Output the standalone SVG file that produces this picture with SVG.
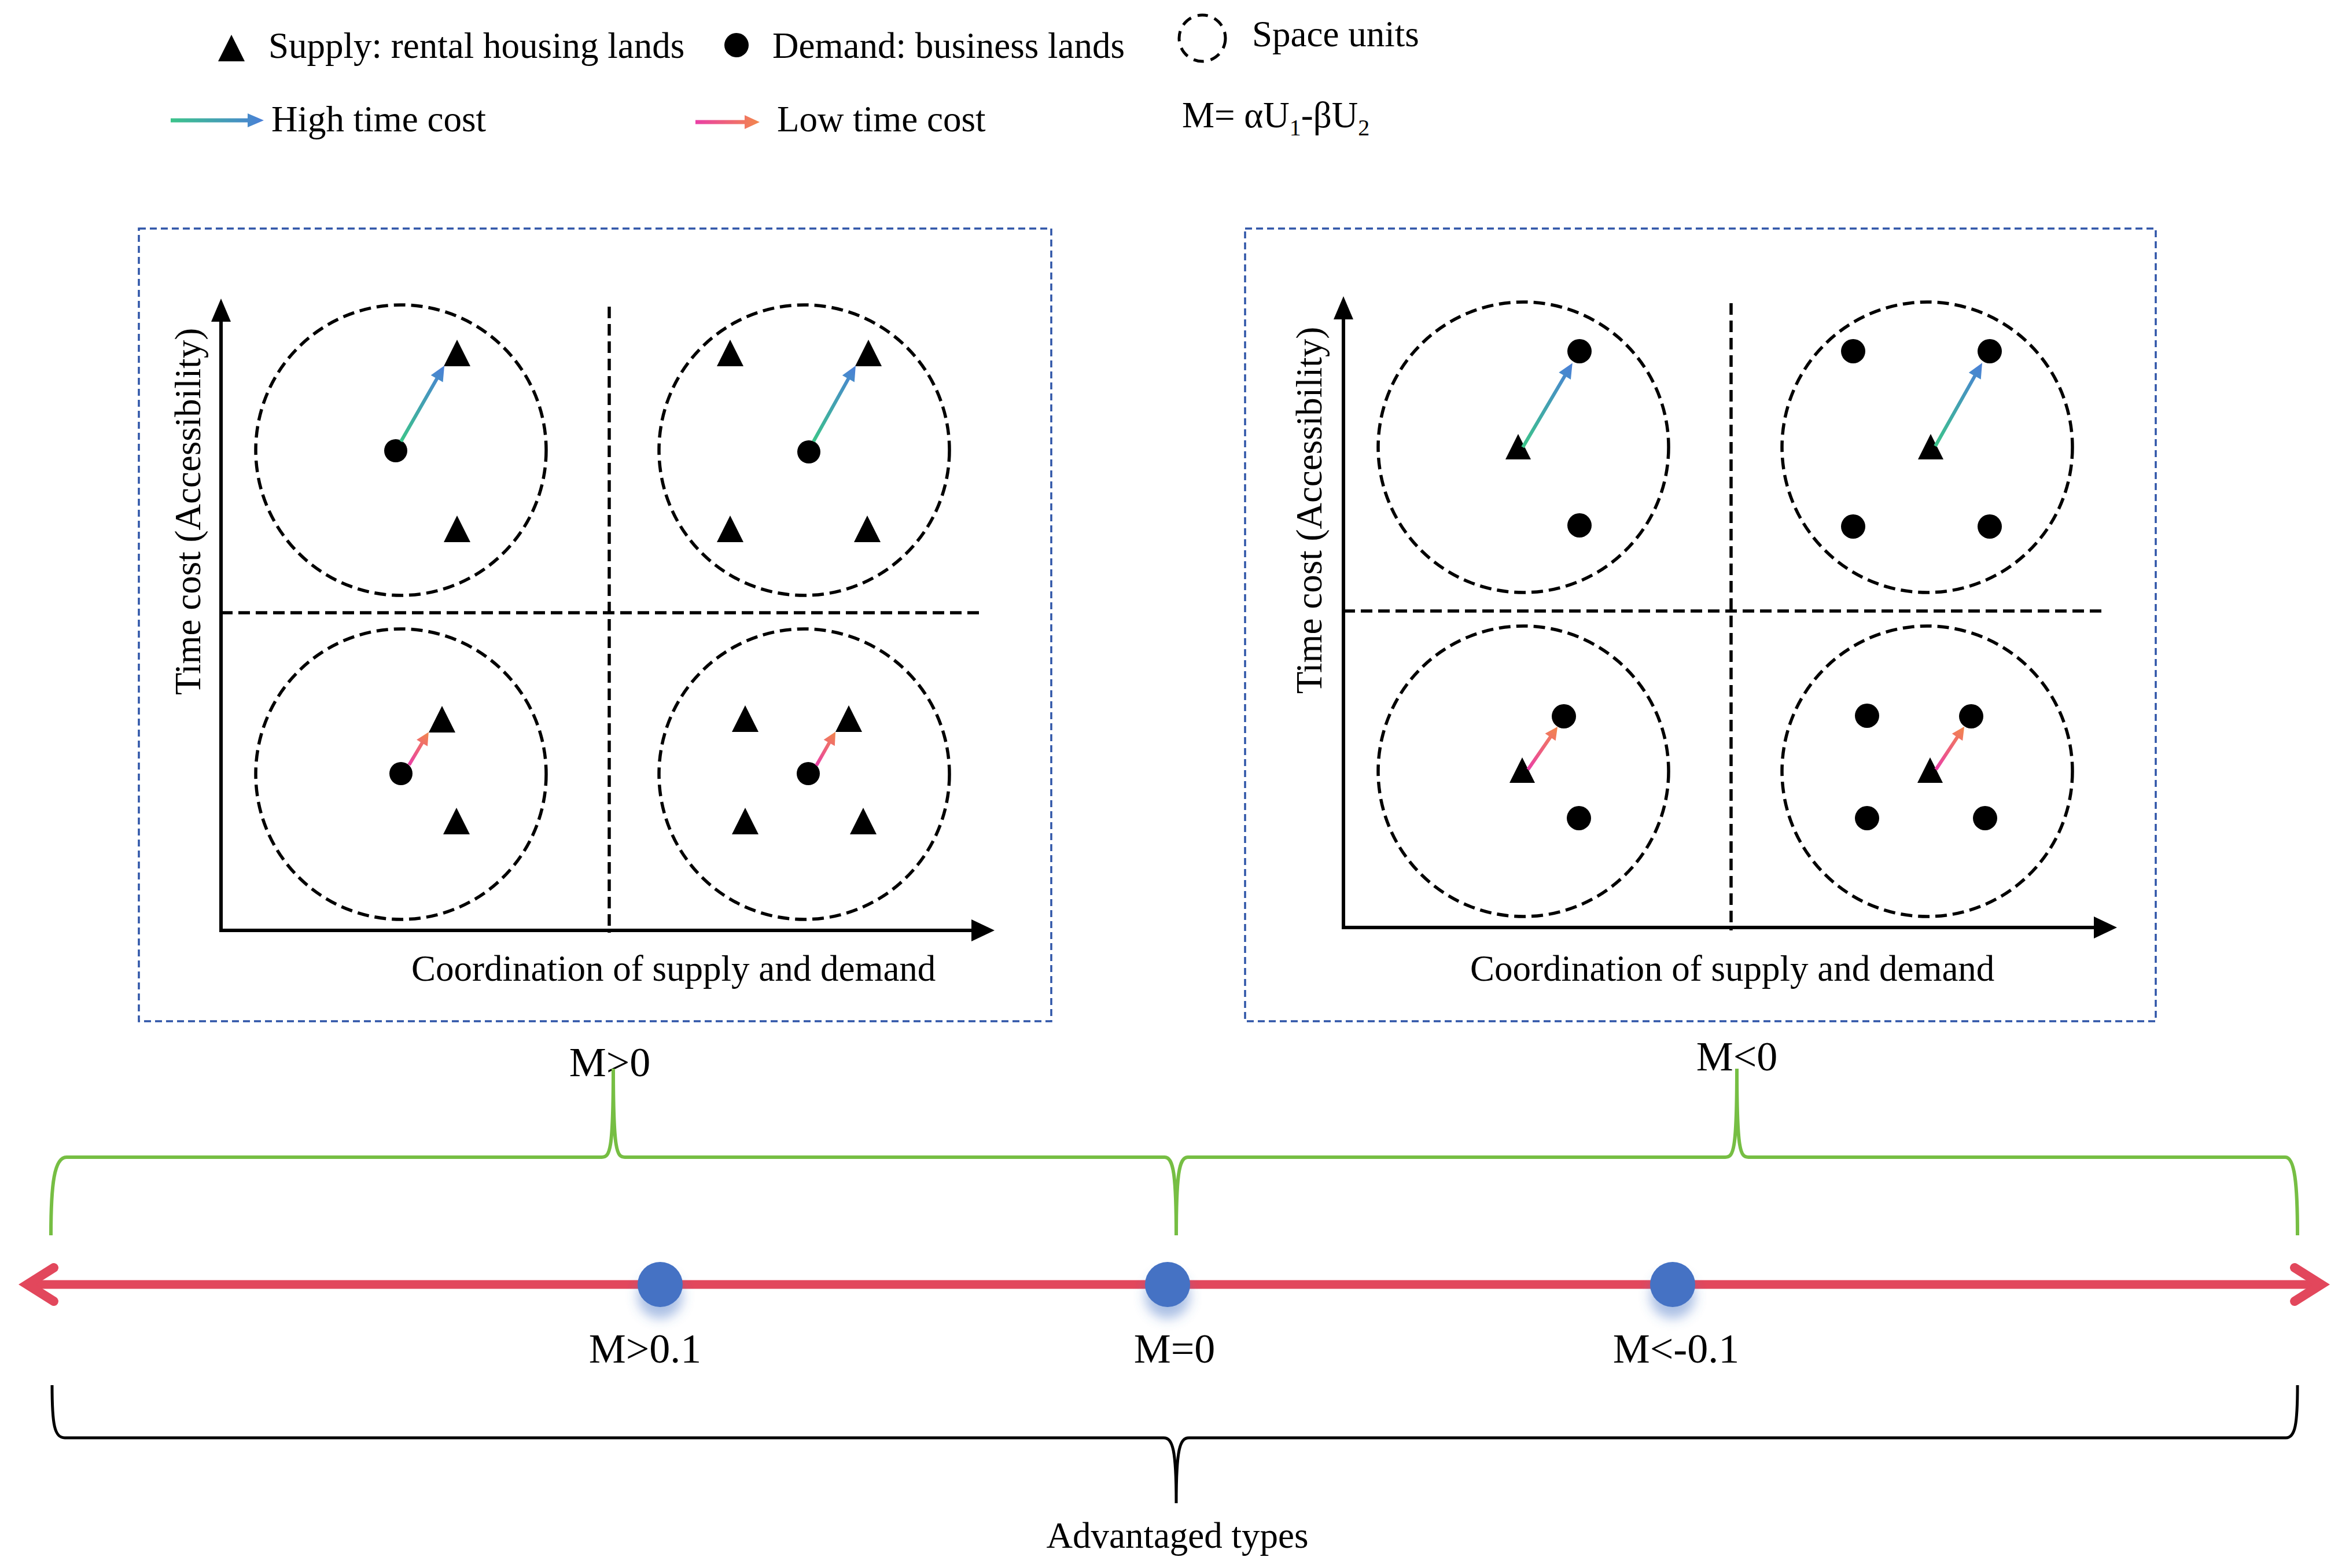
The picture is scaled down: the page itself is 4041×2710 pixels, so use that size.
<svg xmlns="http://www.w3.org/2000/svg" width="4041" height="2710" viewBox="0 0 4041 2710">
<style>
text{font-family:"Liberation Serif","Times New Roman",serif;fill:#000;}
.t62{font-size:63px;}
.t72{font-size:72px;}
.box{fill:none;stroke:#2f55a8;stroke-width:3.5;stroke-dasharray:12 7;}
.ax{stroke:#000;stroke-width:6;fill:none;}
.dv{stroke:#000;stroke-width:5.5;stroke-dasharray:20 10;fill:none;}
.unit{fill:none;stroke:#000;stroke-width:5.5;stroke-dasharray:20 10;}
.hi{fill:url(#gHi);}
.lo{fill:url(#gLo);}
.brG{fill:none;stroke:#76be43;stroke-width:6;}
.brK{fill:none;stroke:#000;stroke-width:5;}
.red{fill:none;stroke:#e2475c;stroke-width:15;}
.chev{fill:none;stroke:#e2475c;stroke-width:16;stroke-linecap:round;stroke-linejoin:miter;stroke-miterlimit:10;}
.bd{fill:#4472c4;}
</style>
<defs>
<linearGradient id="gHi" x1="0" y1="0" x2="1" y2="0">
<stop offset="0" stop-color="#3cc48a"/><stop offset="1" stop-color="#4a7fd8"/>
</linearGradient>
<linearGradient id="gLo" x1="0" y1="0" x2="1" y2="0">
<stop offset="0" stop-color="#ea3fa6"/><stop offset="1" stop-color="#f2874c"/>
</linearGradient>
<filter id="sh" x="-60%" y="-60%" width="220%" height="240%">
<feGaussianBlur in="SourceAlpha" stdDeviation="10"/>
<feOffset dy="20" result="b"/>
<feFlood flood-color="#4472c4" flood-opacity="0.45"/>
<feComposite in2="b" operator="in"/>
<feMerge><feMergeNode/><feMergeNode in="SourceGraphic"/></feMerge>
</filter>
</defs>
<rect width="4041" height="2710" fill="#fff"/>

<g id="legend">
<polygon points="400,60 377,106 423,106" fill="#000"/>
<text class="t62" x="464" y="100">Supply: rental housing lands</text>
<circle cx="1273" cy="78" r="21" fill="#000"/>
<text class="t62" x="1335" y="100">Demand: business lands</text>
<circle cx="2078" cy="66" r="40" fill="none" stroke="#000" stroke-width="5" stroke-dasharray="18 12"/>
<text class="t62" x="2164" y="80">Space units</text>
<polygon class="hi" points="295,204.5 428,204.5 428,196 456,208 428,220 428,211.5 295,211.5"/>
<text class="t62" x="469" y="227">High time cost</text>
<polygon class="lo" points="1202,207.5 1287,207.5 1287,199 1313,211 1287,223 1287,214.5 1202,214.5"/>
<text class="t62" x="1343" y="227">Low time cost</text>
<text class="t62" x="2043" y="220">M= αU<tspan font-size="40" dy="14">1</tspan><tspan dy="-14">-βU</tspan><tspan font-size="40" dy="14">2</tspan></text>
</g>

<g id="panel-left">
<rect class="box" x="240" y="395" width="1577" height="1370"/>
<line class="ax" x1="382" y1="1608" x2="382" y2="550"/>
<polygon points="382,516 365,556 399,556" fill="#000"/>
<line class="ax" x1="379" y1="1608" x2="1685" y2="1608"/>
<polygon points="1719,1608 1679,1589 1679,1627" fill="#000"/>
<line class="dv" x1="1053" y1="530" x2="1053" y2="1612"/>
<line class="dv" x1="382" y1="1059" x2="1702" y2="1059"/>
<text class="t62" transform="translate(346,884) rotate(-90)" text-anchor="middle">Time cost (Accessibility)</text>
<text class="t62" x="711" y="1695">Coordination of supply and demand</text>
<g id="L-TL">
<circle class="unit" cx="693" cy="778" r="251"/>
<circle cx="684" cy="779" r="20"/>
<polygon points="790,587 767,633 813,633"/>
<polygon points="790,891 767,937 813,937"/>
<polygon class="hi" transform="translate(693,763) rotate(-60.2)" points="0,-3 125,-3 125,-12 151,0 125,12 125,3 0,3"/>
</g>
<g id="L-TR">
<circle class="unit" cx="1390" cy="778" r="251"/>
<circle cx="1398" cy="781" r="20"/>
<polygon points="1262,587 1239,633 1285,633"/>
<polygon points="1501,587 1478,633 1524,633"/>
<polygon points="1262,891 1239,937 1285,937"/>
<polygon points="1499,891 1476,937 1522,937"/>
<polygon class="hi" transform="translate(1406,763) rotate(-60.9)" points="0,-3 124,-3 124,-12 150,0 124,12 124,3 0,3"/>
</g>
<g id="L-BL">
<circle class="unit" cx="693" cy="1338" r="251"/>
<circle cx="693" cy="1337" r="20"/>
<polygon points="764,1220 741,1266 787,1266"/>
<polygon points="789,1396 766,1442 812,1442"/>
<polygon class="lo" transform="translate(707,1322) rotate(-59.2)" points="0,-3 44,-3 44,-11 66,0 44,11 44,3 0,3"/>
</g>
<g id="L-BR">
<circle class="unit" cx="1390" cy="1338" r="251"/>
<circle cx="1397" cy="1337" r="20"/>
<polygon points="1288,1219 1265,1265 1311,1265"/>
<polygon points="1467,1219 1444,1265 1490,1265"/>
<polygon points="1288,1396 1265,1442 1311,1442"/>
<polygon points="1492,1396 1469,1442 1515,1442"/>
<polygon class="lo" transform="translate(1411,1323) rotate(-60.4)" points="0,-3 45,-3 45,-11 67,0 45,11 45,3 0,3"/>
</g>
</g>

<g id="panel-right">
<rect class="box" x="2152" y="395" width="1574" height="1370"/>
<line class="ax" x1="2322" y1="1603" x2="2322" y2="546"/>
<polygon points="2322,512 2305,552 2339,552" fill="#000"/>
<line class="ax" x1="2319" y1="1603" x2="3625" y2="1603"/>
<polygon points="3659,1603 3619,1584 3619,1622" fill="#000"/>
<line class="dv" x1="2992" y1="524" x2="2992" y2="1608"/>
<line class="dv" x1="2322" y1="1056" x2="3642" y2="1056"/>
<text class="t62" transform="translate(2284,882) rotate(-90)" text-anchor="middle">Time cost (Accessibility)</text>
<text class="t62" x="2541" y="1695">Coordination of supply and demand</text>
<g id="R-TL">
<circle class="unit" cx="2633" cy="773" r="251"/>
<polygon points="2624,750 2602,794 2646,794"/>
<circle cx="2730" cy="607" r="21"/>
<circle cx="2730" cy="908" r="21"/>
<polygon class="hi" transform="translate(2632,773) rotate(-59.5)" points="0,-3 143,-3 143,-12 169,0 143,12 143,3 0,3"/>
</g>
<g id="R-TR">
<circle class="unit" cx="3331" cy="773" r="251"/>
<polygon points="3337,750 3315,794 3359,794"/>
<circle cx="3203" cy="607" r="21"/>
<circle cx="3439" cy="607" r="21"/>
<circle cx="3203" cy="910" r="21"/>
<circle cx="3439" cy="910" r="21"/>
<polygon class="hi" transform="translate(3345,771) rotate(-60.6)" points="0,-3 139,-3 139,-12 165,0 139,12 139,3 0,3"/>
</g>
<g id="R-BL">
<circle class="unit" cx="2633" cy="1333" r="251"/>
<polygon points="2631,1309 2609,1353 2653,1353"/>
<circle cx="2703" cy="1238" r="21"/>
<circle cx="2729" cy="1414" r="21"/>
<polygon class="lo" transform="translate(2641,1330) rotate(-55.4)" points="0,-3 68,-3 68,-11 90,0 68,11 68,3 0,3"/>
</g>
<g id="R-BR">
<circle class="unit" cx="3331" cy="1333" r="251"/>
<polygon points="3336,1309 3314,1353 3358,1353"/>
<circle cx="3227" cy="1237" r="21"/>
<circle cx="3407" cy="1238" r="21"/>
<circle cx="3227" cy="1414" r="21"/>
<circle cx="3431" cy="1414" r="21"/>
<polygon class="lo" transform="translate(3346,1330) rotate(-56.5)" points="0,-3 67,-3 67,-11 89,0 67,11 67,3 0,3"/>
</g>
</g>

<g id="scale">
<text class="t72" x="1054" y="1860" text-anchor="middle">M&gt;0</text>
<text class="t72" x="3002" y="1850" text-anchor="middle">M&lt;0</text>
<g id="connectors">
<path class="brG" d="M88 2135 C88 2045 94 2000 115 2000 L1040 2000 C1054 2000 1060 1990 1060 1847 C1060 1990 1066 2000 1080 2000 L2013 2000 C2028 2000 2033 2030 2033 2135"/>
<path class="brG" d="M2033 2135 C2033 2030 2038 2000 2053 2000 L2982 2000 C2996 2000 3002 1990 3002 1847 C3002 1990 3008 2000 3022 2000 L3950 2000 C3966 2000 3971 2045 3971 2135"/>
<line class="red" x1="48" y1="2220" x2="4011" y2="2220"/>
<path class="chev" d="M93 2191 L47 2220 L93 2249"/>
<path class="chev" d="M3966 2191 L4012 2220 L3966 2249"/>
<path class="brK" d="M90 2394 C90 2462 94 2485 112 2485 L2011 2485 C2027 2485 2033 2505 2033 2598 C2033 2505 2039 2485 2055 2485 L3951 2485 C3967 2485 3971 2462 3971 2394"/>
</g>
<g id="points">
<circle class="bd" cx="1141" cy="2220" r="39" filter="url(#sh)"/>
<circle class="bd" cx="2018" cy="2220" r="39" filter="url(#sh)"/>
<circle class="bd" cx="2891" cy="2220" r="39" filter="url(#sh)"/>
</g>
<text class="t72" x="1115" y="2355" text-anchor="middle">M&gt;0.1</text>
<text class="t72" x="2030" y="2355" text-anchor="middle">M=0</text>
<text class="t72" x="2897" y="2355" text-anchor="middle">M&lt;-0.1</text>
<text class="t62" x="2035" y="2675" text-anchor="middle">Advantaged types</text>
</g>
</svg>
